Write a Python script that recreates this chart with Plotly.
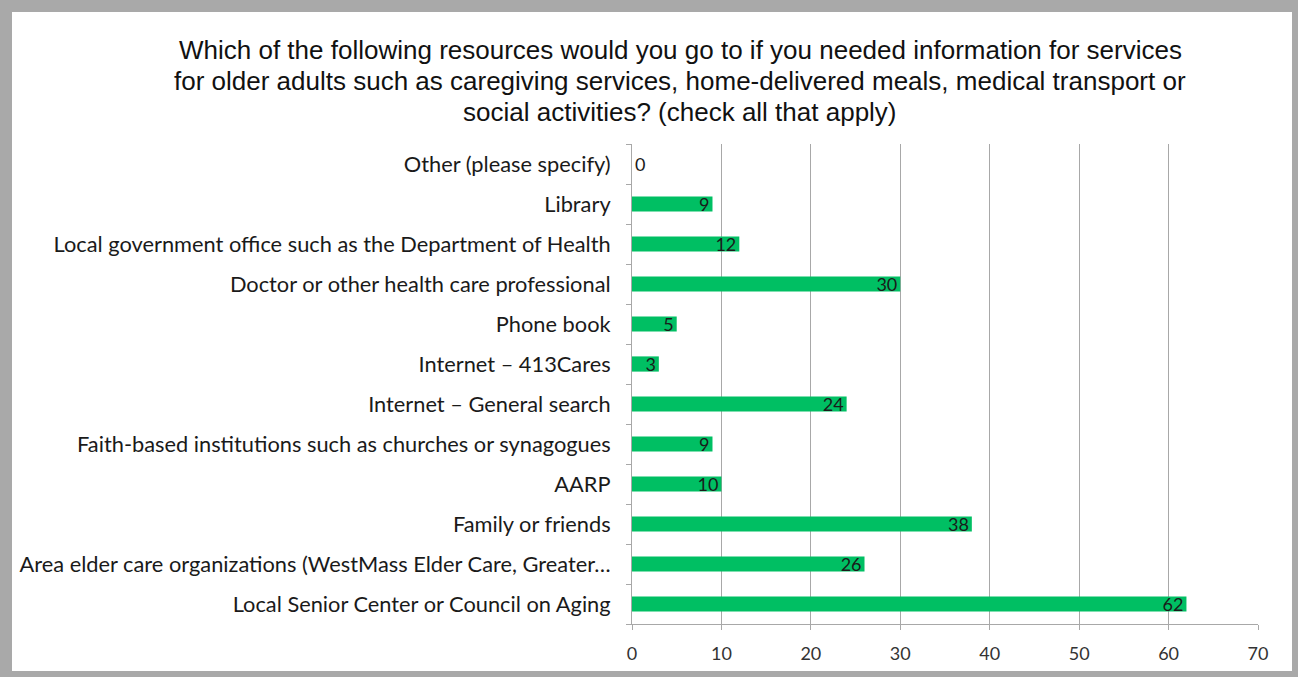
import plotly.graph_objects as go

categories = [
    "Local Senior Center or Council on Aging",
    "Area elder care organizations (WestMass Elder Care, Greater…",
    "Family or friends",
    "AARP",
    "Faith-based institutions such as churches or synagogues",
    "Internet – General search",
    "Internet – 413Cares",
    "Phone book",
    "Doctor or other health care professional",
    "Local government office such as the Department of Health",
    "Library",
    "Other (please specify)",
]
values = [62, 26, 38, 10, 9, 24, 3, 5, 30, 12, 9, 0]
x_ticks = [0, 10, 20, 30, 40, 50, 60, 70]

title_lines = [
    "Which of the following resources would you go to if you needed information for services",
    "for older adults such as caregiving services, home-delivered meals, medical transport or",
    "social activities? (check all that apply)",
]
title_line_y = [50, 81, 112]

W, H = 1298, 677
L, R, T, B = 632, 40, 144, 53
pw, ph = W - L - R, H - T - B

def px_x(p):
    return (p - L) / pw

def px_y(p):
    return (H - B - p) / ph

fig = go.Figure()
fig.add_trace(go.Bar(
    y=categories, x=values, orientation="h",
    marker=dict(color="#00BF63", line=dict(width=0)),
    text=[str(v) for v in values],
    textposition=["outside" if v == 0 else "inside" for v in values],
    insidetextanchor="end",
    textangle=0,
    constraintext="none",
    textfont=dict(family="Lato, Carlito, sans-serif", size=18, color="#1a1a1a"),
    outsidetextfont=dict(family="Lato, Carlito, sans-serif", size=18, color="#1a1a1a"),
    cliponaxis=False,
    hoverinfo="skip",
))

annotations = [
    dict(text=t, xref="paper", yref="paper", x=px_x(680), y=px_y(yy),
         xanchor="center", yanchor="middle", showarrow=False,
         font=dict(family="Liberation Sans Narrow, Arial Narrow, Liberation Sans, sans-serif",
                   size=26, color="#111"))
    for t, yy in zip(title_lines, title_line_y)
]

fig.update_layout(
    width=W, height=H,
    margin=dict(l=L, r=R, t=T, b=B),
    paper_bgcolor="#a9a9a9",
    plot_bgcolor="white",
    showlegend=False,
    bargap=0.62,
    annotations=annotations,
    shapes=[dict(
        type="rect", xref="paper", yref="paper", layer="below",
        x0=px_x(12), x1=px_x(1292), y0=px_y(671), y1=px_y(12),
        fillcolor="white", line=dict(width=0),
    )],
    xaxis=dict(
        range=[0, 70], tickvals=x_ticks, ticktext=[str(t) for t in x_ticks],
        showgrid=True, gridcolor="#a8a8a8", gridwidth=1,
        showline=True, linecolor="#a8a8a8", linewidth=1,
        ticks="outside", ticklen=5, tickcolor="#a8a8a8",
        ticklabelstandoff=8,
        tickfont=dict(family="Lato, Carlito, sans-serif", size=18, color="#333"),
        zeroline=False, fixedrange=True,
    ),
    yaxis=dict(
        categoryorder="array", categoryarray=categories,
        showline=True, linecolor="#a8a8a8", linewidth=1,
        ticks="outside", ticklen=5, tickcolor="#a8a8a8", tickson="boundaries",
        ticklabelstandoff=16,
        tickfont=dict(family="Lato, Carlito, sans-serif", size=21.8, color="#1a1a1a"),
        showgrid=False, fixedrange=True,
    ),
)

fig.write_html("out.html", config={"displayModeBar": False},
               post_script="document.body.style.margin='0';")
